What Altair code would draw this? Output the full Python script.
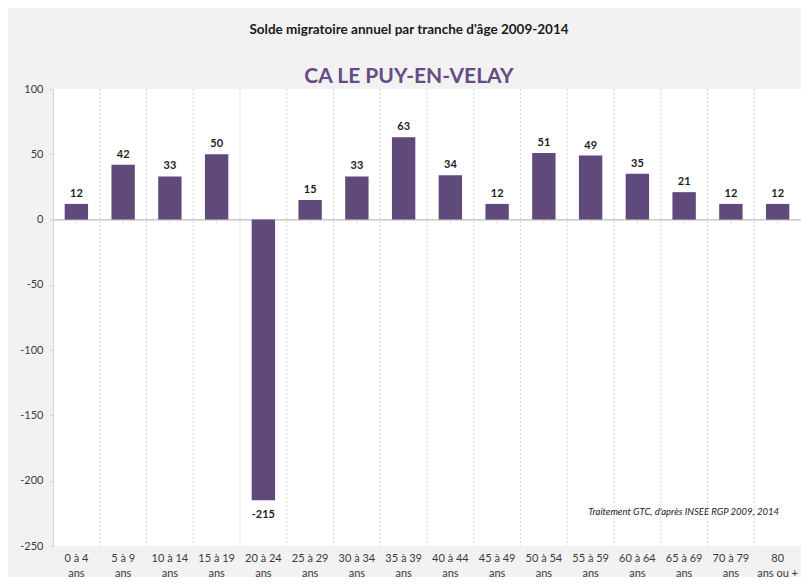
import altair as alt
import pandas as pd

categories = ["0 à 4|ans", "5 à 9|ans", "10 à 14|ans", "15 à 19|ans", "20 à 24|ans",
              "25 à 29|ans", "30 à 34|ans", "35 à 39|ans", "40 à 44|ans", "45 à 49|ans",
              "50 à 54|ans", "55 à 59|ans", "60 à 64|ans", "65 à 69|ans", "70 à 79|ans",
              "80|ans ou +"]
values = [12, 42, 33, 50, -215, 15, 33, 63, 34, 12, 51, 49, 35, 21, 12, 12]
y_ticks = [100, 50, 0, -50, -100, -150, -200, -250]

title_text = "Solde migratoire annuel par tranche d'âge 2009-2014"
subtitle_text = "CA LE PUY-EN-VELAY"
source_text = "Traitement GTC, d'après INSEE RGP 2009, 2014"

df = pd.DataFrame({"cat": categories, "val": values})

FONT = "Lato"
BAR = "#604a7b"

xenc = alt.X("cat:N", sort=categories, title=None,
             scale=alt.Scale(paddingInner=0, paddingOuter=0),
             axis=alt.Axis(labelExpr="split(datum.label, '|')", labelAngle=0,
                           labelAlign="center", bandPosition=0.5,
                           domain=False, ticks=False, grid=False,
                           labelFontSize=11, labelColor="#3a3a3a", labelFont=FONT,
                           labelPadding=6, labelLineHeight=15, labelBaseline="top"))
yscale = alt.Scale(domain=[-250, 100], nice=False, zero=False)
yenc = alt.Y("val:Q", scale=yscale, title=None,
             axis=alt.Axis(values=y_ticks, grid=False, domainColor="#d4d4d4",
                           labelExpr="'' + datum.value",
                           tickColor="#d4d4d4", tickSize=4, labelPadding=6,
                           labelFontSize=11, labelColor="#3a3a3a", labelFont=FONT))

base = alt.Chart(df).transform_calculate(lbl="'' + datum.val")

grid = base.mark_rule(color="#d6d6d6", strokeDash=[2, 2], strokeWidth=1).encode(
    x=alt.X("cat:N", sort=categories, bandPosition=0)
)

zero = base.mark_rule(color="#cfcfcf", strokeWidth=1).encode(
    y=alt.datum(0, scale=yscale)
)
zero_ticks = base.mark_tick(color="#cfcfcf", orient="vertical", size=4, yOffset=2,
                            thickness=1).encode(
    x=alt.X("cat:N", sort=categories),
    y=alt.datum(0, scale=yscale)
)

bars = base.mark_bar(color=BAR, width=alt.RelativeBandSize(0.5)).encode(x=xenc, y=yenc)

pos_lbl = base.transform_filter("datum.val >= 0").mark_text(
    baseline="alphabetic", dy=-7, fontWeight="bold", fontSize=11, font=FONT, color="#1e1e1e"
).encode(x=alt.X("cat:N", sort=categories), y=alt.Y("val:Q", scale=yscale), text="lbl:N")

neg_lbl = base.transform_filter("datum.val < 0").mark_text(
    baseline="top", dy=9, fontWeight="bold", fontSize=11, font=FONT, color="#1e1e1e"
).encode(x=alt.X("cat:N", sort=categories), y=alt.Y("val:Q", scale=yscale), text="lbl:N")

source = alt.Chart(pd.DataFrame({"t": [source_text]})).mark_text(
    align="right", baseline="middle", fontStyle="italic", fontSize=9.5, font=FONT,
    color="#222222"
).encode(x=alt.value(726), y=alt.datum(-224, scale=yscale), text="t:N")

chart = alt.layer(grid, zero, zero_ticks, bars, pos_lbl, neg_lbl, source).properties(
    width=748, height=457,
    background="#f2f2f2",
    padding={"left": 45, "top": 81, "right": 0, "bottom": 31},
    autosize=alt.AutoSizeParams(type="none"),
    title=alt.TitleParams(
        text=title_text, subtitle=subtitle_text,
        font=FONT, fontSize=13.5, fontWeight="bold", color="#1a1a1a",
        subtitleFont=FONT, subtitleFontSize=21, subtitleFontWeight="bold",
        subtitleColor="#654c84", subtitlePadding=30, offset=4,
        anchor="middle", dx=-18, dy=8
    )
).configure_view(fill="white", stroke=None)

chart.save("out.html", embed_options={"renderer": "svg", "actions": False})
